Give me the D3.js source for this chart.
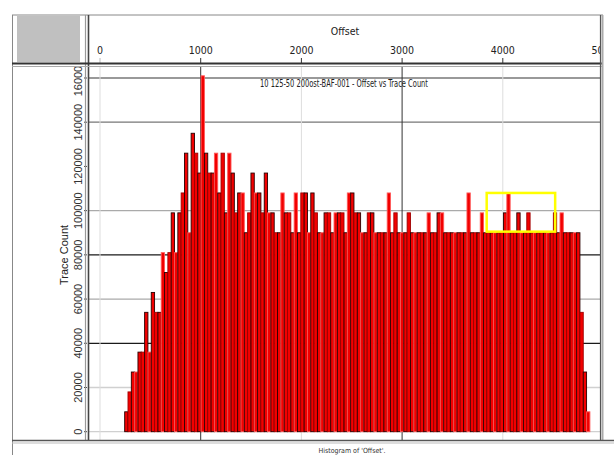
<!DOCTYPE html>
<html>
<head>
<meta charset="utf-8">
<script src="https://cdn.jsdelivr.net/npm/d3@7"></script>
<style>
  body { margin: 0; background: #fff; }
  svg { display: block; }
  .narrow { font-family: "Liberation Sans Narrow", "Arial Narrow", "DejaVu Sans Condensed", sans-serif; font-stretch: condensed; }
  .reg { font-family: "Liberation Sans", Arial, sans-serif; }
</style>
</head>
<body>
<div id="chart"></div>
<script>
// histogram bins: start offset and bin width (offset units)
var binStart = 245;
var binWidth = 33;

// trace count per bin
var traceCounts = [
  9000, 18000, 27000, 27000, 36000, 36000, 54000, 36000, 63000, 54000,
  54000, 81000, 72000, 81000, 99000, 81000, 99000, 108000, 126000, 90000,
  135000, 126000, 117000, 161000, 126000, 117000, 117000, 126000, 108000, 126000,
  99000, 126000, 117000, 99000, 108000, 108000, 90000, 99000, 117000, 108000,
  108000, 99000, 117000, 99000, 99000, 90000, 90000, 108000, 99000, 99000,
  90000, 108000, 90000, 108000, 108000, 90000, 108000, 99000, 90000, 90000,
  99000, 99000, 90000, 99000, 99000, 99000, 90000, 108000, 108000, 99000,
  99000, 90000, 90000, 99000, 99000, 90000, 90000, 90000, 90000, 108000,
  90000, 99000, 90000, 90000, 90000, 99000, 90000, 90000, 90000, 90000,
  90000, 99000, 90000, 90000, 99000, 99000, 90000, 90000, 90000, 90000,
  90000, 90000, 90000, 108000, 90000, 90000, 90000, 99000, 90000, 90000,
  90000, 90000, 90000, 90000, 99000, 108000, 90000, 90000, 99000, 90000,
  90000, 99000, 90000, 90000, 90000, 90000, 90000, 90000, 90000, 99000,
  90000, 99000, 90000, 90000, 90000, 90000, 90000, 54000, 27000, 9000
];

var offsetTicks = [0, 1000, 2000, 3000, 4000, 5000];
var countTicks = [0, 20000, 40000, 60000, 80000, 100000, 120000, 140000, 160000];
var countGrid = [0, 20000, 40000, 60000, 80000, 100000, 140000, 160000];

// highlighted region (offset range, count range)
var boxOffsets = [3840, 4520];
var boxCounts = [90500, 108000];

var title = "10 125-50 200ost-BAF-001 - Offset vs Trace Count";
var xTitle = "Offset";
var yTitle = "Trace Count";
var footer = "Histogram of 'Offset'.";

var W = 614, H = 455;

var svg = d3.select("#chart").append("svg")
    .attr("width", W)
    .attr("height", H);

var x = d3.scaleLinear().domain([0, 5000]).range([100, 603.5]);
var y = d3.scaleLinear().domain([0, 160000]).range([431.7, 78]);

var defs = svg.append("defs");
defs.append("clipPath").attr("id", "plotclip")
  .append("rect").attr("x", 89).attr("y", 67).attr("width", 511).attr("height", 373);
defs.append("clipPath").attr("id", "headclip")
  .append("rect").attr("x", 89).attr("y", 15).attr("width", 511).attr("height", 48);
defs.append("clipPath").attr("id", "leftclip")
  .append("rect").attr("x", 12).attr("y", 67).attr("width", 76).attr("height", 373);

// header gray box
svg.append("rect")
  .attr("x", 17).attr("y", 16).attr("width", 63).attr("height", 46)
  .attr("fill", "#c0c0c0");

// grid lines (behind bars)
var grid = svg.append("g").attr("clip-path", "url(#plotclip)");
function hStyle(v) {
  if (v == 40000 || v == 80000) return ["#1a1a1a", 1.3];
  if (v == 140000 || v == 160000) return ["#777", 1.3];
  if (v == 60000 || v == 100000) return ["#aaa", 1.3];
  return ["#d0d0d0", 1.3];
}
grid.selectAll("line.h")
  .data(countGrid)
  .enter().append("line")
  .attr("class", "h")
  .attr("x1", 89).attr("x2", 600)
  .attr("y1", function(d) { return y(d); })
  .attr("y2", function(d) { return y(d); })
  .attr("stroke", function(d) { return hStyle(d)[0]; })
  .attr("stroke-width", function(d) { return hStyle(d)[1]; });

grid.selectAll("line.v")
  .data(offsetTicks)
  .enter().append("line")
  .attr("class", "v")
  .attr("x1", function(d) { return x(d); })
  .attr("x2", function(d) { return x(d); })
  .attr("y1", 67).attr("y2", 440)
  .attr("stroke", function(d) { return (d == 1000 || d == 3000) ? "#333" : "#ddd"; })
  .attr("stroke-width", 1);

// bars
var bars = svg.append("g").attr("clip-path", "url(#plotclip)");
bars.selectAll("rect")
  .data(traceCounts)
  .enter().append("rect")
  .attr("x", function(d, i) { return x(binStart + i * binWidth); })
  .attr("width", function(d, i) { return x(binStart + (i + 1) * binWidth) - x(binStart + i * binWidth); })
  .attr("y", function(d) { return y(d); })
  .attr("height", function(d) { return y(0) - y(d); })
  .attr("fill", "#f20000")
  .attr("stroke", function(d, i) { return i % 2 == 0 ? "#2a0000" : (i % 4 == 1 ? "#a00000" : "#ff5a5a"); })
  .attr("stroke-width", 0.9);

// highlight box
svg.append("rect")
  .attr("x", x(boxOffsets[0]))
  .attr("y", y(boxCounts[1]))
  .attr("width", x(boxOffsets[1]) - x(boxOffsets[0]))
  .attr("height", y(boxCounts[0]) - y(boxCounts[1]))
  .attr("fill", "none")
  .attr("stroke", "#ffff00")
  .attr("stroke-width", 2.5);

// chart title
svg.append("text")
  .attr("class", "narrow")
  .attr("x", 344).attr("y", 87)
  .attr("text-anchor", "middle")
  .attr("font-size", 10)
  .attr("fill", "#222")
  .attr("textLength", 168)
  .attr("lengthAdjust", "spacingAndGlyphs")
  .text(title);

// x axis in header
var head = svg.append("g").attr("clip-path", "url(#headclip)");
head.selectAll("line")
  .data(offsetTicks)
  .enter().append("line")
  .attr("x1", function(d) { return x(d); })
  .attr("x2", function(d) { return x(d); })
  .attr("y1", 58).attr("y2", 63)
  .attr("stroke", function(d) { return d == 0 ? "#bbb" : "#333"; });
head.selectAll("text")
  .data(offsetTicks)
  .enter().append("text")
  .attr("class", "narrow")
  .attr("x", function(d) { return x(d); })
  .attr("y", 54)
  .attr("text-anchor", "middle")
  .attr("font-size", 10.5)
  .attr("fill", "#222")
  .text(function(d) { return d; });
svg.append("text")
  .attr("class", "narrow")
  .attr("x", 345).attr("y", 35)
  .attr("text-anchor", "middle")
  .attr("font-size", 10.5)
  .attr("fill", "#222")
  .text(xTitle);

// y axis at left
var left = svg.append("g").attr("clip-path", "url(#leftclip)");
left.selectAll("text")
  .data(countTicks)
  .enter().append("text")
  .attr("class", "reg")
  .attr("transform", function(d) { return "translate(82," + y(d) + ") rotate(-90)"; })
  .attr("text-anchor", "middle")
  .attr("font-size", 11)
  .attr("fill", "#333")
  .text(function(d) { return d; });
left.selectAll("line")
  .data(countTicks)
  .enter().append("line")
  .attr("x1", 84).attr("x2", 87)
  .attr("y1", function(d) { return y(d); })
  .attr("y2", function(d) { return y(d); })
  .attr("stroke", "#444");
svg.append("text")
  .attr("class", "reg")
  .attr("transform", "translate(68,255) rotate(-90)")
  .attr("text-anchor", "middle")
  .attr("font-size", 11)
  .attr("fill", "#222")
  .text(yTitle);

// frame lines
var frame = svg.append("g").attr("fill", "none");
function ln(x1, y1, x2, y2, c, w) {
  frame.append("line")
    .attr("x1", x1).attr("y1", y1).attr("x2", x2).attr("y2", y2)
    .attr("stroke", c).attr("stroke-width", w);
}
ln(12, 15, 603, 15, "#888", 1);
ln(12.5, 15, 12.5, 455, "#888", 1);
ln(85.5, 15, 85.5, 441, "#999", 1.2);
ln(88.5, 15, 88.5, 441, "#444", 1.6);
ln(12, 63.5, 603, 63.5, "#333", 2);
ln(12, 66.5, 603, 66.5, "#aaa", 1.2);
ln(600.5, 15, 600.5, 441, "#555", 1.2);
ln(602.5, 15, 602.5, 441, "#aaa", 2);
ln(12, 440.5, 614, 440.5, "#555", 1.4);
ln(12, 443, 614, 443, "#bbb", 1);

// footer
svg.append("text")
  .attr("class", "narrow")
  .attr("x", 352).attr("y", 453)
  .attr("text-anchor", "middle")
  .attr("font-size", 7)
  .attr("fill", "#333")
  .text(footer);
</script>
</body>
</html>
